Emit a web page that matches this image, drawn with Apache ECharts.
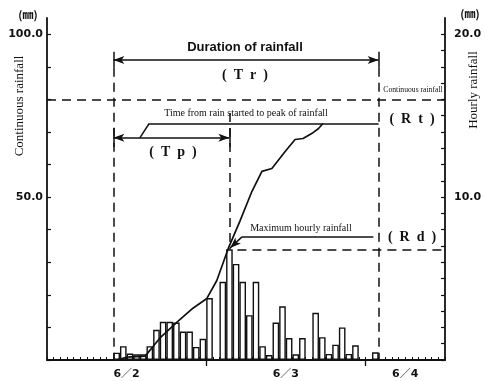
<!DOCTYPE html>
<html>
<head>
<meta charset="utf-8">
<script src="https://cdn.jsdelivr.net/npm/echarts@6/dist/echarts.min.js"></script>
<style>
  html, body { margin: 0; padding: 0; background: #fff; }
  #chart { width: 486px; height: 381px; }
</style>
</head>
<body>
<div id="chart"></div>
<script>
// Hourly rainfall (mm/h), one value per hour counted from 6/2 00:00 (60 hours)
const hourlyRain = [
  0, 0, 0, 0, 0, 0, 0, 0, 0, 0,
  0.45, 0.85, 0.4, 0.35, 0.35, 0.85, 1.85, 2.35, 2.35, 2.3,
  1.75, 1.75, 0.8, 1.3, 3.8, 0, 4.8, 6.8, 5.9, 4.8,
  2.75, 4.8, 0.85, 0.3, 2.3, 3.3, 1.35, 0.35, 1.35, 0,
  2.9, 1.4, 0.37, 0.94, 2.0, 0.37, 0.9, 0, 0, 0.47,
  0, 0, 0, 0, 0, 0, 0, 0, 0, 0
];

// Continuous (cumulative) rainfall curve: [hour, mm]
const curveHours = [10.5, 12.1, 14.8, 17.0, 19.6, 22.0, 24.1, 25.6, 27.3, 29.1, 30.9, 32.4, 33.9, 35.9, 37.4, 38.6, 40.1, 40.9, 41.6];
const curveRain  = [0, 0.9, 1.2, 6.7, 11.6, 15.9, 18.9, 24.4, 34.1, 42.7, 51.8, 57.9, 58.8, 64.0, 67.7, 68.0, 69.8, 71.0, 72.6];

// Axis ticks and labels
const dayLabels = ['6／2', '6／3', '6／4'];
const dayLabelHours = [12, 36, 54];
const dayBoundaryHours = [24, 48];
const hourTicks = Array.from({ length: 61 }, (_, i) => i);
const leftTicks = [0, 10, 20, 30, 40, 50, 60, 70, 80, 90, 100];
const leftLabels = [50, 100];
const rightTicks = [0, 1, 2, 3, 4, 5, 6, 7, 8, 9, 10, 11, 12, 13, 14, 15, 16, 17, 18, 19, 20];
const rightLabels = [10, 20];

// Event markers
const rainStartHour = 10;
const rainEndHour = 50;
const continuousLevel = 80;

const LEFT_MAX = 105, RIGHT_MAX = 21, HOURS = 60;
const toLeft = v => v * LEFT_MAX / RIGHT_MAX;

const peakRate = Math.max(...hourlyRain);
const peakHour = hourlyRain.indexOf(peakRate) + 0.5;
const peakLeft = toLeft(peakRate);
const totalRain = curveRain[curveRain.length - 1];

const INK = '#111';
const SERIF = '"Liberation Serif", "DejaVu Serif", serif';
const SANS = '"DejaVu Sans", "Noto Sans CJK JP", sans-serif';

function seg(x1, y1, x2, y2, opts) {
  opts = opts || {};
  return [
    { coord: [x1, y1], symbol: opts.s1 || 'none',
      lineStyle: { color: INK, width: 1.5, type: opts.dashed ? [9, 6] : 'solid' } },
    { coord: [x2, y2], symbol: opts.s2 || 'none' }
  ];
}

const annotations = [
  // Duration of rainfall (Tr)
  seg(rainStartHour, 92.1, rainEndHour, 92.1, { s1: 'arrow', s2: 'arrow' }),
  seg(rainStartHour, 94.6, rainStartHour, 89.7),
  seg(rainEndHour, 94.6, rainEndHour, 89.7),
  seg(rainStartHour, 89.7, rainStartHour, 0, { dashed: true }),
  seg(rainEndHour, 89.7, rainEndHour, 0, { dashed: true }),
  // continuous rainfall level
  seg(0, continuousLevel, HOURS, continuousLevel, { dashed: true }),
  // time to peak (Tp)
  seg(rainStartHour, 68.2, peakHour, 68.2, { s1: 'arrow', s2: 'arrow' }),
  seg(rainStartHour, 71.2, rainStartHour, 65.4),
  seg(peakHour, 71.2, peakHour, 65.4),
  seg(peakHour, 75.8, peakHour, peakLeft, { dashed: true }),
  seg(14.0, 68.2, 15.4, totalRain),
  seg(15.4, totalRain, rainEndHour, totalRain),
  // maximum hourly rainfall (Rd)
  seg(peakHour + 1.2, peakLeft, HOURS, peakLeft, { dashed: true }),
  seg(29.4, 37.8, peakHour + 0.1, peakLeft + 0.4, { s2: 'arrow' }),
  seg(29.4, 37.8, 49.2, 37.8)
];

const chart = echarts.init(document.getElementById('chart'), null, { renderer: 'canvas' });

const txt = (text, x, y, font, extra) => Object.assign({
  type: 'text', x: x, y: y, silent: true, z: 20,
  style: { text: text, font: font, fill: INK, align: 'center', verticalAlign: 'middle' }
}, extra || {});

chart.setOption({
  animation: false,
  backgroundColor: '#fff',
  grid: { left: 47, right: 41, top: 18, bottom: 21, outerBoundsMode: 'none' },
  xAxis: [
    { // hourly bars
      type: 'category', data: hourTicks.slice(0, HOURS), show: false, boundaryGap: true
    },
    { // time axis
      type: 'value', min: 0, max: HOURS, position: 'bottom',
      axisLine: { show: true, onZero: false, lineStyle: { color: INK, width: 1.8 } },
      axisTick: { show: true, inside: true, length: 3, customValues: hourTicks, lineStyle: { color: INK, width: 1 } },
      axisLabel: {
        customValues: dayLabelHours, margin: 9,
        formatter: v => dayLabels[dayLabelHours.indexOf(v)] || '',
        color: INK, fontFamily: SANS, fontWeight: 'bold', fontSize: 11
      },
      splitLine: { show: false }
    },
    { // day boundaries
      type: 'value', min: 0, max: HOURS, position: 'bottom',
      axisLine: { show: false, onZero: false },
      axisTick: { show: true, inside: false, length: 6, customValues: dayBoundaryHours, lineStyle: { color: INK, width: 1.3 } },
      axisLabel: { show: false },
      splitLine: { show: false }
    }
  ],
  yAxis: [
    { // continuous rainfall (mm)
      type: 'value', min: 0, max: LEFT_MAX, position: 'left',
      axisLine: { show: true, onZero: false, lineStyle: { color: INK, width: 1.8 } },
      axisTick: { show: true, inside: true, length: 4, customValues: leftTicks, lineStyle: { color: INK, width: 1.2 } },
      axisLabel: {
        customValues: leftLabels, margin: 4, formatter: v => v.toFixed(1),
        color: INK, fontFamily: SANS, fontWeight: 'bold', fontSize: 11
      },
      splitLine: { show: false }
    },
    { // hourly rainfall (mm)
      type: 'value', min: 0, max: RIGHT_MAX, position: 'right',
      axisLine: { show: true, onZero: false, lineStyle: { color: INK, width: 1.8 } },
      axisTick: { show: true, inside: true, length: 4, customValues: rightTicks, lineStyle: { color: INK, width: 1.2 } },
      axisLabel: {
        customValues: rightLabels, margin: 9, formatter: v => v.toFixed(1),
        color: INK, fontFamily: SANS, fontWeight: 'bold', fontSize: 11
      },
      splitLine: { show: false }
    }
  ],
  series: [
    {
      name: 'Hourly rainfall', type: 'bar', xAxisIndex: 0, yAxisIndex: 1,
      data: hourlyRain.map(v => (v > 0 ? v : '-')),
      barCategoryGap: '0%', barWidth: '100%',
      itemStyle: { color: '#fff', borderColor: INK, borderWidth: 1.4 },
      z: 2, silent: true
    },
    {
      name: 'Continuous rainfall', type: 'line', xAxisIndex: 1, yAxisIndex: 0,
      data: curveHours.map((h, i) => [h, curveRain[i]]),
      symbol: 'none', lineStyle: { color: INK, width: 1.7 },
      z: 5, silent: true,
      markLine: {
        silent: true, animation: false, symbol: ['none', 'none'], symbolSize: [6, 11],
        label: { show: false }, emphasis: { disabled: true },
        lineStyle: { color: INK, width: 1.5 },
        data: annotations
      }
    }
  ],
  graphic: [
    txt('(㎜)', 28, 15, 'bold 11px "Noto Sans CJK JP", sans-serif'),
    txt('(㎜)', 470, 14, 'bold 11px "Noto Sans CJK JP", sans-serif'),
    txt('Continuous rainfall', 20, 106, '13px ' + SERIF, { rotation: Math.PI / 2 }),
    txt('Hourly rainfall', 474, 90, '13px ' + SERIF, { rotation: Math.PI / 2 }),
    txt('Duration of rainfall', 245, 47, 'bold 13px "Liberation Sans", sans-serif'),
    txt('(  T  r  )', 245, 75, 'bold 14px ' + SERIF),
    txt('(  T  p  )', 173, 152, 'bold 14px ' + SERIF),
    txt('(  R  t  )', 412, 119, 'bold 14px ' + SERIF),
    txt('(  R  d  )', 412, 237, 'bold 14px ' + SERIF),
    txt('Time from rain started to peak of rainfall', 246, 113, '10px ' + SERIF),
    txt('Maximum hourly rainfall', 301, 228, '10px ' + SERIF),
    txt('Continuous rainfall', 413, 90, '9px ' + SERIF, { scaleX: 0.85 })
  ]
});
</script>
</body>
</html>
